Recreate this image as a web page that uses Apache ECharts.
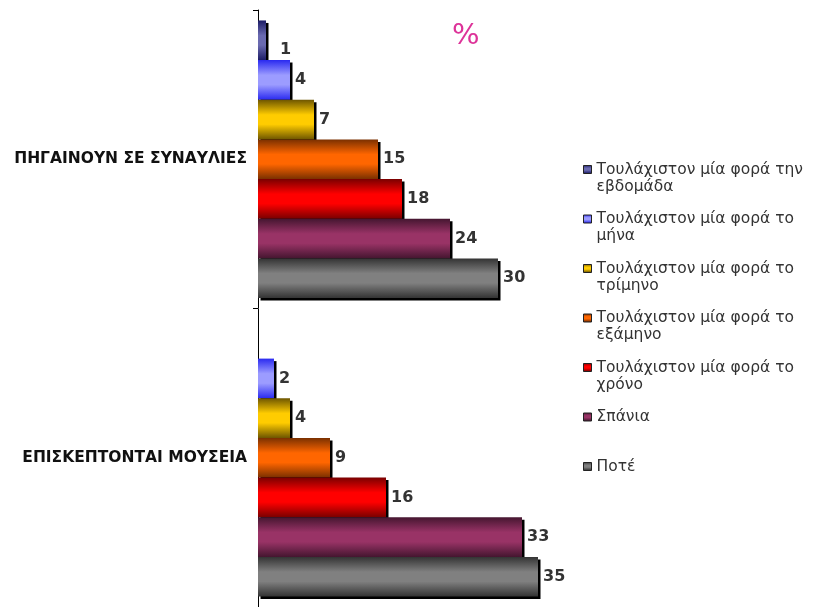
<!DOCTYPE html>
<html>
<head>
<meta charset="utf-8">
<script src="https://cdn.jsdelivr.net/npm/echarts@6/dist/echarts.min.js"></script>
<style>
  html, body { margin: 0; padding: 0; background: #fff; }
  #chart { width: 816px; height: 607px; }
</style>
</head>
<body>
<div id="chart"></div>
<script>
// Activities (top to bottom)
const categories = ['ΠΗΓΑΙΝΟΥΝ ΣΕ ΣΥΝΑΥΛΙΕΣ', 'ΕΠΙΣΚΕΠΤΟΝΤΑΙ ΜΟΥΣΕΙΑ'];

// Frequency groups
const seriesNames = [
  'Τουλάχιστον μία φορά την εβδομάδα',
  'Τουλάχιστον μία φορά το μήνα',
  'Τουλάχιστον μία φορά το τρίμηνο',
  'Τουλάχιστον μία φορά το εξάμηνο',
  'Τουλάχιστον μία φορά το χρόνο',
  'Σπάνια',
  'Ποτέ'
];

// Percentages per frequency group: [concerts, museums]
const weekly    = [1, null];
const monthly   = [4, 2];
const quarterly = [7, 4];
const halfYear  = [15, 9];
const yearly    = [18, 16];
const rarely    = [24, 33];
const never     = [30, 35];

const seriesValues = [weekly, monthly, quarterly, halfYear, yearly, rarely, never];

// [edge shade, centre shade] for each bar's cylinder-like gradient
const palette = [
  ['#1c1c66', '#6a6ab0'],
  ['#2a2af0', '#9c9cff'],
  ['#6e5600', '#ffcc00'],
  ['#7a3000', '#ff6600'],
  ['#7a0000', '#ff0000'],
  ['#451630', '#993366'],
  ['#333333', '#808080']
];

// Vertical dark-bright-dark gradient; `span` limits it to the top part of the box
function barGradient(edge, mid, span = 1) {
  return new echarts.graphic.LinearGradient(0, 0, 0, 1, [
    { offset: 0, color: edge },
    { offset: 0.38 * span, color: mid },
    { offset: 0.62 * span, color: mid },
    { offset: 1 * span, color: edge },
    { offset: 1, color: edge }
  ]);
}

// Long legend entries wrap after "φορά την/το"; short ones get an empty
// second line so every entry takes the same height.
const wrapName = n => (/φορά \S+ /.test(n) ? n.replace(/(φορά \S+) /, '$1\n') : n + '\n ');

// Legend swatch: a square at the top of a taller (invisible) box, so it
// lines up with the first line of a two-line entry.
const swatchIcon = 'path://M0,0L8,0L8,8L0,8Z M0,25L0,25';
const swatchSpan = 8 / 25;

const chart = echarts.init(document.getElementById('chart'));

const series = seriesNames.map((name, i) => ({
  name,
  type: 'bar',
  barGap: '0%',
  barCategoryGap: '7%',
  data: seriesValues[i].map((v, j) => {
    // the tiny weekly bar has its label nudged clear of the bar below
    if (i === 0 && j === 0) {
      return { value: v, label: { offset: [9, 10] } };
    }
    return v;
  }),
  itemStyle: {
    color: barGradient(palette[i][0], palette[i][1]),
    shadowColor: '#000',
    shadowOffsetX: 2.5,
    shadowOffsetY: 2.5,
    shadowBlur: 0
  },
  label: {
    show: true,
    position: 'right',
    distance: 5,
    fontFamily: 'DejaVu Sans',
    fontWeight: 'bold',
    fontSize: 16,
    color: '#333'
  },
  emphasis: { disabled: true }
}));

chart.setOption({
  animation: false,
  backgroundColor: '#fff',
  title: {
    text: '%',
    left: 447,
    top: 17,
    textStyle: {
      color: '#dd3399',
      fontFamily: 'DejaVu Sans',
      fontWeight: 'normal',
      fontSize: 29
    }
  },
  grid: { left: 258, top: 10, bottom: 0, width: 320, containLabel: false },
  xAxis: {
    type: 'value',
    min: 0,
    max: 40,
    show: false
  },
  yAxis: {
    type: 'category',
    inverse: true,
    data: categories,
    axisLine: { show: true, lineStyle: { color: '#000', width: 1 } },
    axisTick: { show: true, length: 5, lineStyle: { color: '#000' } },
    axisLabel: {
      margin: 11,
      fontFamily: 'DejaVu Sans',
      fontWeight: 'bold',
      fontSize: 15.5,
      color: '#111'
    }
  },
  legend: {
    orient: 'vertical',
    left: 578,
    top: 156,
    itemWidth: 8,
    itemHeight: 25,
    itemGap: 15.5,
    icon: swatchIcon,
    selectedMode: false,
    itemStyle: { borderColor: '#222', borderWidth: 1 },
    formatter: wrapName,
    data: seriesNames.map((n, i) => ({
      name: n,
      itemStyle: { color: barGradient(palette[i][0], palette[i][1], swatchSpan) }
    })),
    textStyle: {
      fontFamily: 'DejaVu Sans',
      fontSize: 15.5,
      lineHeight: 17,
      color: '#333'
    }
  },
  series
});
</script>
</body>
</html>
